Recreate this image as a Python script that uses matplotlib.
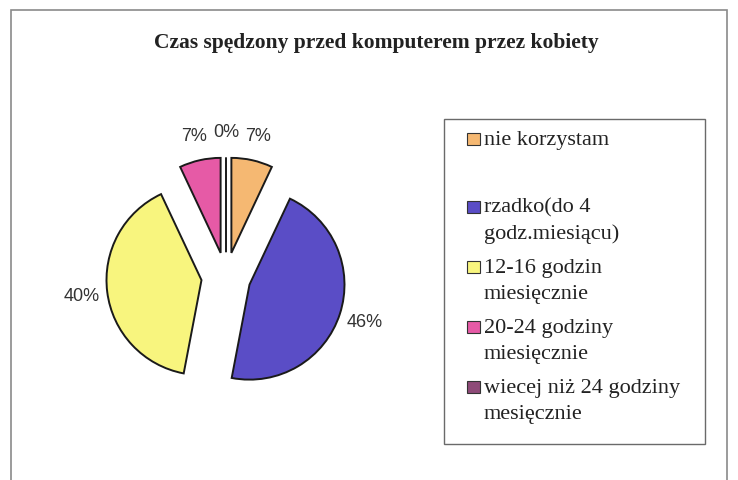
"""Pie chart: time spent at the computer by women (survey answers)."""

import matplotlib.pyplot as plt
from matplotlib.patches import Rectangle

categories = [
    "nie korzystam",
    "rzadko(do 4\ngodz.miesiącu)",
    "12-16 godzin\nmiesięcznie",
    "20-24 godziny\nmiesięcznie",
    "wiecej niż 24 godziny\nmesięcznie",
]
shares = [7, 46, 40, 7, 0]
colors = ["#F5B872", "#5A4DC6", "#F8F57E", "#E65AA6", "#8E4A78"]

title = "Czas spędzony przed komputerem przez kobiety"

W, H = 738, 481


def px(x, y):
    """Pixel position (from top-left) to figure fraction."""
    return x / W, 1 - y / H


def main():
    fig = plt.figure(figsize=(W / 100, H / 100), dpi=100)
    fig.patch.set_facecolor("white")

    # outer chart frame
    fig.patches.append(Rectangle(px(11, 500), (727 - 11) / W, 489 / H,
                                 transform=fig.transFigure, fill=False,
                                 edgecolor="#8a8a8a", linewidth=1.2))

    fig.text(*px(376, 48), title, ha="center", va="baseline",
             fontsize=15.5, fontweight="bold", family="Liberation Serif",
             color="#222222")

    # pie: centre at (226, 278) px, radius 95 px
    cx, cy, r = 226, 278, 95
    half = 1.58 * r
    left, top = px(cx - half, cy - half)
    ax = fig.add_axes([left, top - 2 * half / H, 2 * half / W, 2 * half / H])
    wedges, texts, autotexts = ax.pie(
        shares, colors=colors, startangle=90, counterclock=False,
        explode=[0.26] * len(shares), autopct="%1.0f%%", pctdistance=1.27,
        wedgeprops=dict(edgecolor="#1a1a1a", linewidth=1.4),
        textprops=dict(family="Liberation Sans", fontsize=13, color="#333333"))
    for t in autotexts:
        t.set_clip_on(False)
    ax.set_xlim(-1.58, 1.58)
    ax.set_ylim(-1.58, 1.58)
    ax.set_aspect("equal")
    ax.axis("off")

    # legend box
    fig.patches.append(Rectangle(px(444, 445), (705 - 444) / W, (445 - 120) / H,
                                 transform=fig.transFigure, fill=False,
                                 edgecolor="#6a6a6a", linewidth=1.0))
    first_lines = [140, 208, 268, 328, 388]
    for label, color, y in zip(categories, colors, first_lines):
        fig.patches.append(Rectangle(px(467, y + 6), 13 / W, 12 / H,
                                     transform=fig.transFigure,
                                     facecolor=color, edgecolor="#333333",
                                     linewidth=0.8))
        for i, line in enumerate(label.split("\n")):
            fig.text(*px(484, y + 26 * i), line, ha="left", va="center",
                     fontsize=16, family="Liberation Serif", color="#222222")

    fig.savefig("out.png", dpi=100)


if __name__ == "__main__":
    main()
